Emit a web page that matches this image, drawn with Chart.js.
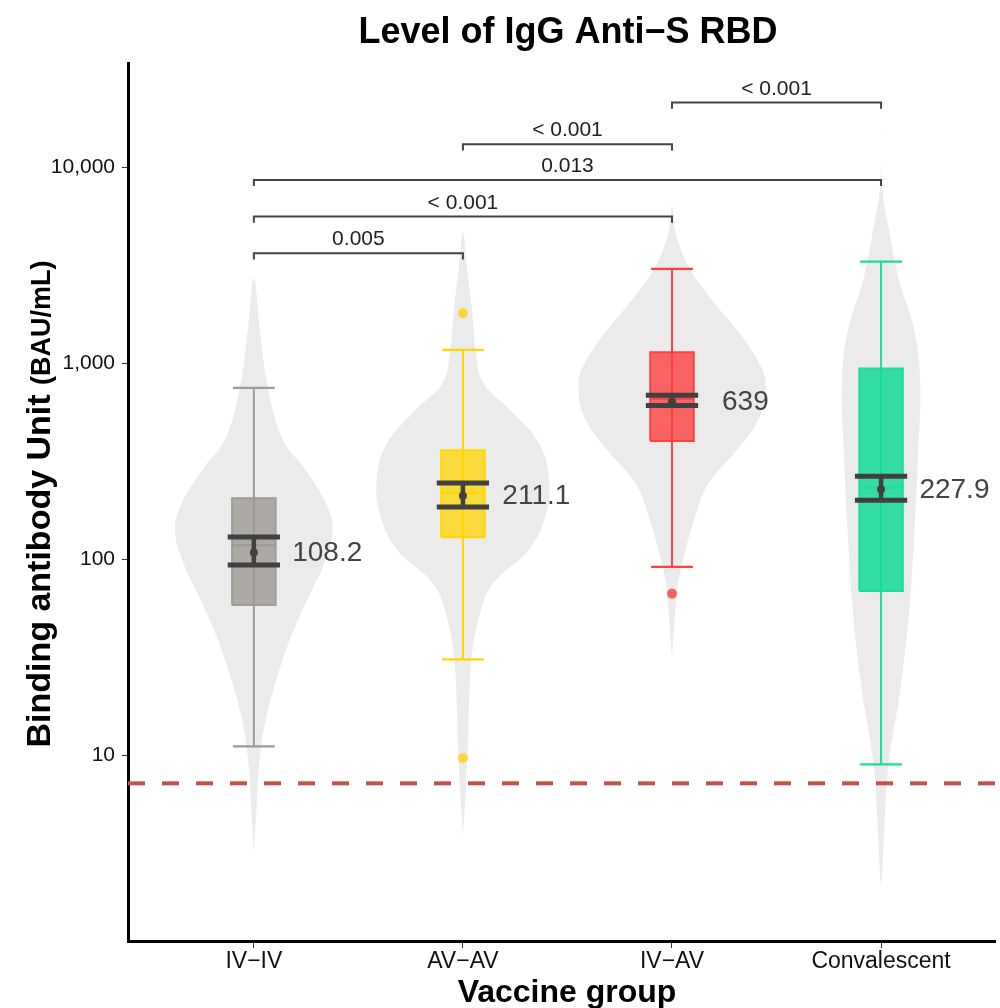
<!DOCTYPE html>
<html>
<head>
<meta charset="utf-8">
<title>Level of IgG Anti-S RBD</title>
<script src="https://cdn.jsdelivr.net/npm/chart.js@4.4.1/dist/chart.umd.min.js"></script>
<style>
  html, body { margin: 0; padding: 0; background: #fff; }
  #wrap { width: 1000px; height: 1008px; }
</style>
</head>
<body>
<div id="wrap"><canvas id="myChart" width="1000" height="1008"></canvas></div>
<script>
// vaccine groups (x positions 1..4)
var groups = ['IV\u2212IV', 'AV\u2212AV', 'IV\u2212AV', 'Convalescent'];

// box plot stats, BAU/mL
var whiskerLow  = [11.1, 30.9, 91.4, 9.0];
var q1          = [58.5, 129.5, 401, 68.9];
var medians     = [118, 218, 660, 232];
var q3          = [205, 360, 1138, 939];
var whiskerHigh = [748, 1170, 3030, 3300];
var outliers    = [[], [1800, 9.7], [66.8], []];

// geometric mean with 95% CI
var gmt    = [108.2, 211.1, 639, 227.9];
var ciLow  = [93.6, 185, 608, 200];
var ciHigh = [130, 245, 687, 265];

// violin outlines: levels (BAU/mL, bottom to top) and half widths (x units)
var violinLevels = [
  [3.14, 5.26, 8.75, 14.6, 24.4, 40.6, 67.9, 97, 139, 189, 285, 407, 734, 1465, 2710],
  [3.86, 6.77, 11.3, 18.9, 31.5, 52.6, 75.2, 113, 170, 257, 387, 583, 794, 1134, 1892, 3160, 4640],
  [31.8, 51, 75.4, 111, 165, 244, 361, 534, 760, 961, 1422, 2103, 3111, 4605, 6295],
  [2.05, 2.75, 5.0, 9.1, 22.4, 55.1, 135, 333, 816, 1486, 2705, 4920, 7960, 15500]
];
var violinWidths = [
  [0, 0.012, 0.024, 0.053, 0.108, 0.179, 0.272, 0.339, 0.377, 0.349, 0.248, 0.139, 0.069, 0.029, 0],
  [0, 0.014, 0.024, 0.03, 0.042, 0.081, 0.143, 0.319, 0.397, 0.412, 0.366, 0.223, 0.097, 0.062, 0.043, 0.018, 0],
  [0, 0.014, 0.029, 0.064, 0.111, 0.175, 0.311, 0.42, 0.448, 0.426, 0.323, 0.191, 0.08, 0.018, 0],
  [0, 0.007, 0.019, 0.036, 0.094, 0.135, 0.159, 0.177, 0.187, 0.158, 0.084, 0.036, 0.005, 0]
];

// pairwise comparisons
var pairs         = [[1, 2], [1, 3], [1, 4], [2, 3], [3, 4]];
var pLabels       = ['0.005', '< 0.001', '0.013', '< 0.001', '< 0.001'];
var bracketLevels = [3640, 5598, 8610, 13100, 21360];

var yTicks = [10, 100, 1000, 10000];
var cutoff = 7.2;

// axis ranges
var xMin = 0.398, xMax = 4.545;
var yMin = 1.13, yMax = 34000;

// styles
var lineColors = ['#9e9a96', '#ffd700', '#ff4040', '#1ddc9c'];
var boxColors  = ['rgba(158,152,148,0.8)', 'rgba(255,212,0,0.75)', 'rgba(255,64,64,0.8)', 'rgba(20,220,150,0.85)'];
var dotColors  = ['rgba(158,152,148,0.85)', 'rgba(253,212,40,0.9)', 'rgba(255,70,70,0.85)', 'rgba(20,220,150,0.85)'];
var violinColor = '#ebebeb';
var ciColor = '#404040';
var boxHalf = 0.104, capHalf = 0.1, ciHalf = 0.125, labelShift = 0.351;
var bracketTip = 0.93;
var FONT = '"Liberation Sans", Arial, Helvetica, sans-serif';

Chart.defaults.font.family = FONT;

function seg(points, color, width, order) {
  return { data: points, borderColor: color, borderWidth: width, pointRadius: 0,
           fill: false, tension: 0, order: order };
}

var datasets = [];

groups.forEach(function (name, i) {
  var c = i + 1;
  var lv = violinLevels[i], wd = violinWidths[i];
  var outline = [];
  for (var k = 0; k < lv.length; k++) outline.push({ x: c - wd[k], y: lv[k] });
  for (var k = lv.length - 2; k >= 0; k--) outline.push({ x: c + wd[k], y: lv[k] });
  datasets.push({ data: outline, borderWidth: 0, borderColor: 'rgba(0,0,0,0)', backgroundColor: violinColor,
                  fill: 'shape', tension: 0.4, pointRadius: 0, order: 10 });

  // whiskers
  datasets.push(seg([{ x: c, y: whiskerLow[i] }, { x: c, y: whiskerHigh[i] }], lineColors[i], 2, 8));
  datasets.push(seg([{ x: c - capHalf, y: whiskerLow[i] }, { x: c + capHalf, y: whiskerLow[i] }], lineColors[i], 2.2, 8));
  datasets.push(seg([{ x: c - capHalf, y: whiskerHigh[i] }, { x: c + capHalf, y: whiskerHigh[i] }], lineColors[i], 2.2, 8));

  // box
  var box = seg([{ x: c - boxHalf, y: q1[i] }, { x: c - boxHalf, y: q3[i] },
                 { x: c + boxHalf, y: q3[i] }, { x: c + boxHalf, y: q1[i] },
                 { x: c - boxHalf, y: q1[i] }], lineColors[i], 2, 7);
  box.fill = 'shape';
  box.backgroundColor = boxColors[i];
  datasets.push(box);
  datasets.push(seg([{ x: c - boxHalf, y: medians[i] }, { x: c + boxHalf, y: medians[i] }], lineColors[i], 2, 6));

  // outliers
  if (outliers[i].length) {
    datasets.push({ data: outliers[i].map(function (v) { return { x: c, y: v }; }), showLine: false,
                    pointRadius: 5, pointBackgroundColor: dotColors[i], pointBorderWidth: 0, order: 5 });
  }

  // confidence interval and mean
  datasets.push(seg([{ x: c, y: ciLow[i] }, { x: c, y: ciHigh[i] }], ciColor, 4.5, 4));
  datasets.push(seg([{ x: c - ciHalf, y: ciLow[i] }, { x: c + ciHalf, y: ciLow[i] }], ciColor, 5, 4));
  datasets.push(seg([{ x: c - ciHalf, y: ciHigh[i] }, { x: c + ciHalf, y: ciHigh[i] }], ciColor, 5, 4));
  datasets.push({ data: [{ x: c, y: gmt[i] }], showLine: false, pointRadius: 4,
                  pointBackgroundColor: ciColor, pointBorderWidth: 0, order: 3 });
});

// cutoff line
var cut = seg([{ x: xMin, y: cutoff }, { x: xMax, y: cutoff }], '#c8504b', 4, 9);
cut.borderDash = [17, 17];
datasets.push(cut);

// significance brackets
pairs.forEach(function (p, j) {
  var lv = bracketLevels[j];
  datasets.push(seg([{ x: p[0], y: lv * bracketTip }, { x: p[0], y: lv },
                     { x: p[1], y: lv }, { x: p[1], y: lv * bracketTip }], '#444', 2, 2));
});

var textPlugin = {
  id: 'texts',
  afterDraw: function (chart) {
    var ctx = chart.ctx;
    var xs = chart.scales.x, ys = chart.scales.y;
    ctx.save();

    ctx.fillStyle = '#000';
    ctx.textAlign = 'center';
    ctx.textBaseline = 'alphabetic';
    ctx.font = 'bold 36px ' + FONT;
    ctx.fillText('Level of IgG Anti\u2212S RBD', 568, 43);

    ctx.font = 'bold 32px ' + FONT;
    ctx.fillText('Vaccine group', 567, 1002);

    // y axis title, two sizes
    var partA = 'Binding antibody Unit ', partB = '(BAU/mL)';
    ctx.font = 'bold 34px ' + FONT;
    var wA = ctx.measureText(partA).width;
    ctx.font = 'bold 27px ' + FONT;
    var wB = ctx.measureText(partB).width;
    ctx.translate(50, 504);
    ctx.rotate(-Math.PI / 2);
    ctx.textAlign = 'left';
    ctx.font = 'bold 34px ' + FONT;
    ctx.fillText(partA, -(wA + wB) / 2, 0);
    ctx.font = 'bold 27px ' + FONT;
    ctx.fillText(partB, -(wA + wB) / 2 + wA, 0);
    ctx.setTransform(1, 0, 0, 1, 0, 0);

    // geometric mean labels
    ctx.fillStyle = '#444';
    ctx.textAlign = 'center';
    ctx.textBaseline = 'middle';
    ctx.font = '28px ' + FONT;
    gmt.forEach(function (v, i) {
      ctx.fillText(String(v), xs.getPixelForValue(i + 1 + labelShift), ys.getPixelForValue(v) + 1);
    });

    // p values
    ctx.fillStyle = '#222';
    ctx.textBaseline = 'alphabetic';
    ctx.font = '21px ' + FONT;
    pairs.forEach(function (p, j) {
      ctx.fillText(pLabels[j], xs.getPixelForValue((p[0] + p[1]) / 2), ys.getPixelForValue(bracketLevels[j]) - 8);
    });

    ctx.restore();
  }
};

new Chart(document.getElementById('myChart').getContext('2d'), {
  type: 'line',
  data: { datasets: datasets },
  plugins: [textPlugin],
  options: {
    responsive: false,
    animation: false,
    events: [],
    layout: { padding: { top: 63, left: 0, right: 0, bottom: 0 } },
    plugins: { legend: { display: false }, tooltip: { enabled: false } },
    scales: {
      x: {
        type: 'linear', min: xMin, max: xMax, bounds: 'data', offset: false,
        afterBuildTicks: function (s) { s.ticks = [1, 2, 3, 4].map(function (v) { return { value: v }; }); },
        afterFit: function (s) { s.height = 67; s.paddingLeft = 0; s.paddingRight = 0; },
        border: { display: true, color: '#000', width: 3 },
        grid: { drawOnChartArea: false, drawTicks: true, tickLength: 7, color: '#333' },
        ticks: { color: '#111', font: { size: 23 }, padding: 0, maxRotation: 0, autoSkip: false,
                 callback: function (v) { return groups[v - 1]; } }
      },
      y: {
        type: 'logarithmic', min: yMin, max: yMax, bounds: 'data',
        afterBuildTicks: function (s) { s.ticks = yTicks.map(function (v) { return { value: v }; }); },
        afterFit: function (s) { s.width = 128; s.paddingTop = 0; s.paddingBottom = 0; },
        border: { display: true, color: '#000', width: 3 },
        grid: { drawOnChartArea: false, drawTicks: true, tickLength: 6, color: '#333' },
        ticks: { color: '#111', font: { size: 21 }, padding: 7,
                 callback: function (v) { return Number(v).toLocaleString('en-US'); } }
      }
    }
  }
});
</script>
</body>
</html>
